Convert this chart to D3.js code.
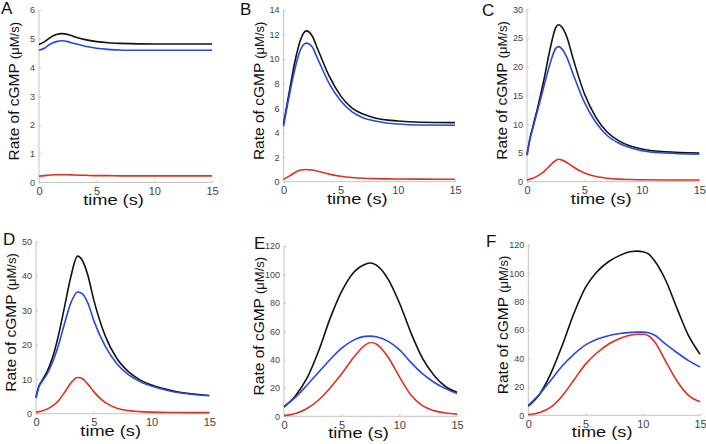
<!DOCTYPE html>
<html lang="en">
<head>
<meta charset="utf-8">
<title>rate of cGMP panels</title>
<script src="https://d3js.org/d3.v7.min.js"></script>
<style type="text/css">
  body { margin: 0; background: #fff; }
  .axis path, .axis line { stroke: #c4c4c4; }
  .axis text { fill: #444; font-family: "Liberation Sans", Arial, sans-serif; }
  .lab { font-family: "Liberation Sans", Arial, sans-serif; fill: #111; }
  .curve { fill: none; stroke-width: 1.6px; }
</style>
</head>
<body>
<script type="text/javascript">

// ---- data ----
var letters = ["A", "B", "C", "D", "E", "F"];
var yMax = [6, 14, 30, 50, 120, 120];
var yStep = [1, 2, 5, 10, 20, 20];
var xTicks = [0, 5, 10, 15];

// panel A
var tA = [0, 0.5, 1, 1.5, 2, 2.5, 3, 4, 5, 6, 7, 8, 10, 12, 15];
var blackA = [4.8, 4.9, 5.05, 5.15, 5.18, 5.15, 5.08, 4.97, 4.9, 4.86, 4.84, 4.83, 4.82, 4.82, 4.82];
var blueA = [4.6, 4.68, 4.82, 4.9, 4.93, 4.9, 4.84, 4.74, 4.67, 4.63, 4.61, 4.6, 4.6, 4.6, 4.6];
var redA = [0.22, 0.24, 0.26, 0.27, 0.27, 0.27, 0.26, 0.25, 0.24, 0.24, 0.23, 0.23, 0.23, 0.23, 0.23];

// panel B
var tB = [0, 0.5, 1, 1.5, 2, 2.5, 3, 4, 5, 6, 7, 8, 10, 12, 15];
var blackB = [4.7, 7.3, 9.8, 11.6, 12.3, 11.9, 10.8, 8.6, 7.0, 6.0, 5.5, 5.2, 4.95, 4.85, 4.82];
var blueB = [4.5, 7.0, 9.2, 10.8, 11.3, 11.0, 10.0, 8.0, 6.6, 5.7, 5.2, 4.95, 4.7, 4.62, 4.6];
var redB = [0.2, 0.45, 0.75, 0.95, 1.0, 0.95, 0.85, 0.62, 0.45, 0.34, 0.28, 0.25, 0.22, 0.21, 0.2];

// panel C
var tC = [0, 0.25, 0.5, 1, 1.5, 2, 2.5, 2.75, 3, 3.5, 4, 5, 6, 7, 8, 9, 10, 12, 15];
var blackC = [4.7, 7.5, 9.5, 13.5, 18, 23, 26.8, 27.3, 27, 25, 21.5, 15.3, 11.2, 8.6, 7.1, 6.2, 5.7, 5.2, 5.0];
var blueC = [4.6, 7.3, 9.2, 13, 16.8, 20.5, 23.2, 23.5, 23.2, 21.5, 18.8, 13.8, 10.3, 8.0, 6.7, 5.9, 5.4, 5.0, 4.8];
var redC = [0.3, 0.45, 0.6, 1.1, 1.8, 2.8, 3.7, 3.9, 3.8, 3.3, 2.6, 1.5, 0.9, 0.6, 0.45, 0.38, 0.33, 0.3, 0.3];

// panel D
var tD = [0, 0.25, 0.5, 1, 1.5, 2, 2.5, 3, 3.6, 4, 4.5, 5, 6, 7, 8, 9, 10, 12, 15];
var blackD = [4.7, 8, 9.5, 12.5, 17, 23.5, 31.5, 39.5, 45.7, 44.5, 40, 33, 22.5, 16, 12.2, 9.8, 8.3, 6.5, 5.3];
var blueD = [4.6, 7.8, 9.2, 11.8, 15.5, 20.5, 26.5, 32, 35.3, 34.8, 32, 27, 19.5, 14.5, 11.3, 9.3, 8.0, 6.3, 5.2];
var redD = [0.4, 0.6, 0.8, 1.4, 2.4, 4.0, 6.3, 8.8, 10.5, 10.2, 8.5, 6.4, 3.2, 1.6, 0.9, 0.6, 0.45, 0.35, 0.3];

// panel E
var tE = [0, 1, 2, 3, 4, 5, 6, 7, 7.5, 8, 9, 10, 11, 12, 13, 14, 15];
var blackE = [6.5, 14.5, 27, 46, 69, 88, 101, 107, 108, 106.5, 97, 80, 59, 41, 29, 21, 17];
var blueE = [7, 13.5, 22, 31, 40, 48, 53.5, 56.3, 56.5, 56, 53, 47, 38, 30, 24, 19.5, 16];
var redE = [0.5, 2, 5.5, 11.5, 20, 30, 41, 50, 52, 51, 42, 28, 15, 7.5, 4, 2.3, 1.5];

// panel F
var tF = [0, 1, 2, 3, 4, 5, 6, 7, 8, 9, 9.5, 10, 10.5, 11, 12, 13, 14, 15];
var blackF = [6.5, 15, 30, 50, 72, 90, 101, 108, 112.5, 115.2, 115.5, 115, 113.5, 109, 95, 75, 56, 43];
var blueF = [7, 15, 25, 35, 43, 49.5, 53.5, 56, 57.5, 58.3, 58.5, 58.5, 58, 56.5, 50, 44, 38.5, 34];
var redF = [0.5, 2, 6, 14, 25, 36, 44, 50, 54, 56.5, 57, 57, 56, 52, 38, 24, 14, 9.5];

var times = [tA, tB, tC, tD, tE, tF];
var blacks = [blackA, blackB, blackC, blackD, blackE, blackF];
var blues = [blueA, blueB, blueC, blueD, blueE, blueF];
var reds = [redA, redB, redC, redD, redE, redF];

// ---- layout: plot box of each panel [left, right, top, bottom] ----
var boxes = [
  [39, 212, 10, 182.5],
  [283.5, 455, 10, 181.7],
  [527, 699.3, 9.3, 181.7],
  [36, 209.3, 241.3, 413.7],
  [284, 457, 246, 416.3],
  [528.3, 700, 244.7, 415.3]
];
var letterPos = [[1, 14], [240, 15], [482, 16], [3, 245], [254, 249], [486, 247]];

var w = 706, h = 444;
var svg = d3.select("body").append("svg")
            .attr("width", w)
            .attr("height", h);

var colors = {black: "#111111", blue: "#2a46e0", red: "#e0301e"};

boxes.forEach(function(b, i) {
  var xScale = d3.scaleLinear().domain([0, 15]).range([b[0], b[1]]);
  var yScale = d3.scaleLinear().domain([0, yMax[i]]).range([b[3], b[2]]);

  var g = svg.append("g");

  var xAxis = d3.axisBottom(xScale).tickValues(xTicks).tickSize(-2).tickPadding(5)
                .tickFormat(d3.format("d"));
  g.append("g").attr("class", "axis")
   .attr("transform", `translate(0, ${b[3]})`)
   .call(xAxis)
   .call(s => s.selectAll("text").attr("font-size", 11))
   .call(s => s.select(".domain").attr("d", `M${b[0]},0H${b[1]}`));

  var yAxis = d3.axisLeft(yScale).tickValues(d3.range(0, yMax[i] + 0.001, yStep[i]))
                .tickSize(-2).tickPadding(4).tickFormat(d3.format("d"));
  g.append("g").attr("class", "axis")
   .attr("transform", `translate(${b[0]}, 0)`)
   .call(yAxis)
   .call(s => s.selectAll("text").attr("font-size", 9))
   .call(s => s.select(".domain").attr("d", `M0,${b[3]}V${b[2]}`));

  // line generator
  var lineGen = d3.line()
                  .x(d => xScale(d[0]))
                  .y(d => yScale(d[1]))
                  .curve(d3.curveMonotoneX);

  var t = times[i];
  [["black", blacks[i]], ["blue", blues[i]], ["red", reds[i]]].forEach(function(s) {
    var pts = t.map((tt, k) => [tt, s[1][k]]);
    g.append("path")
     .datum(pts)
     .attr("class", "curve")
     .attr("stroke", colors[s[0]])
     .attr("d", lineGen);
  });

  // axis labels
  var cy = (b[2] + b[3]) / 2;
  var yl = g.append("text")
            .attr("class", "lab")
            .attr("transform", `translate(${b[0] - 20}, ${cy - 5}) rotate(-90)`)
            .attr("text-anchor", "middle");
  yl.append("tspan").attr("font-size", 15.5).text("Rate of cGMP ");
  yl.append("tspan").attr("font-size", 13).text("(\u03bcM/s)");

  g.append("text")
   .attr("class", "lab")
   .attr("transform", `translate(${(b[0] + b[1]) / 2 - 12}, ${b[3] + 22}) scale(1.3, 1)`)
   .attr("text-anchor", "middle")
   .attr("font-size", 14)
   .text("time (s)");

  g.append("text")
   .attr("class", "lab")
   .attr("x", letterPos[i][0])
   .attr("y", letterPos[i][1])
   .attr("font-size", 17)
   .text(letters[i]);
});

</script>
</body>
</html>
